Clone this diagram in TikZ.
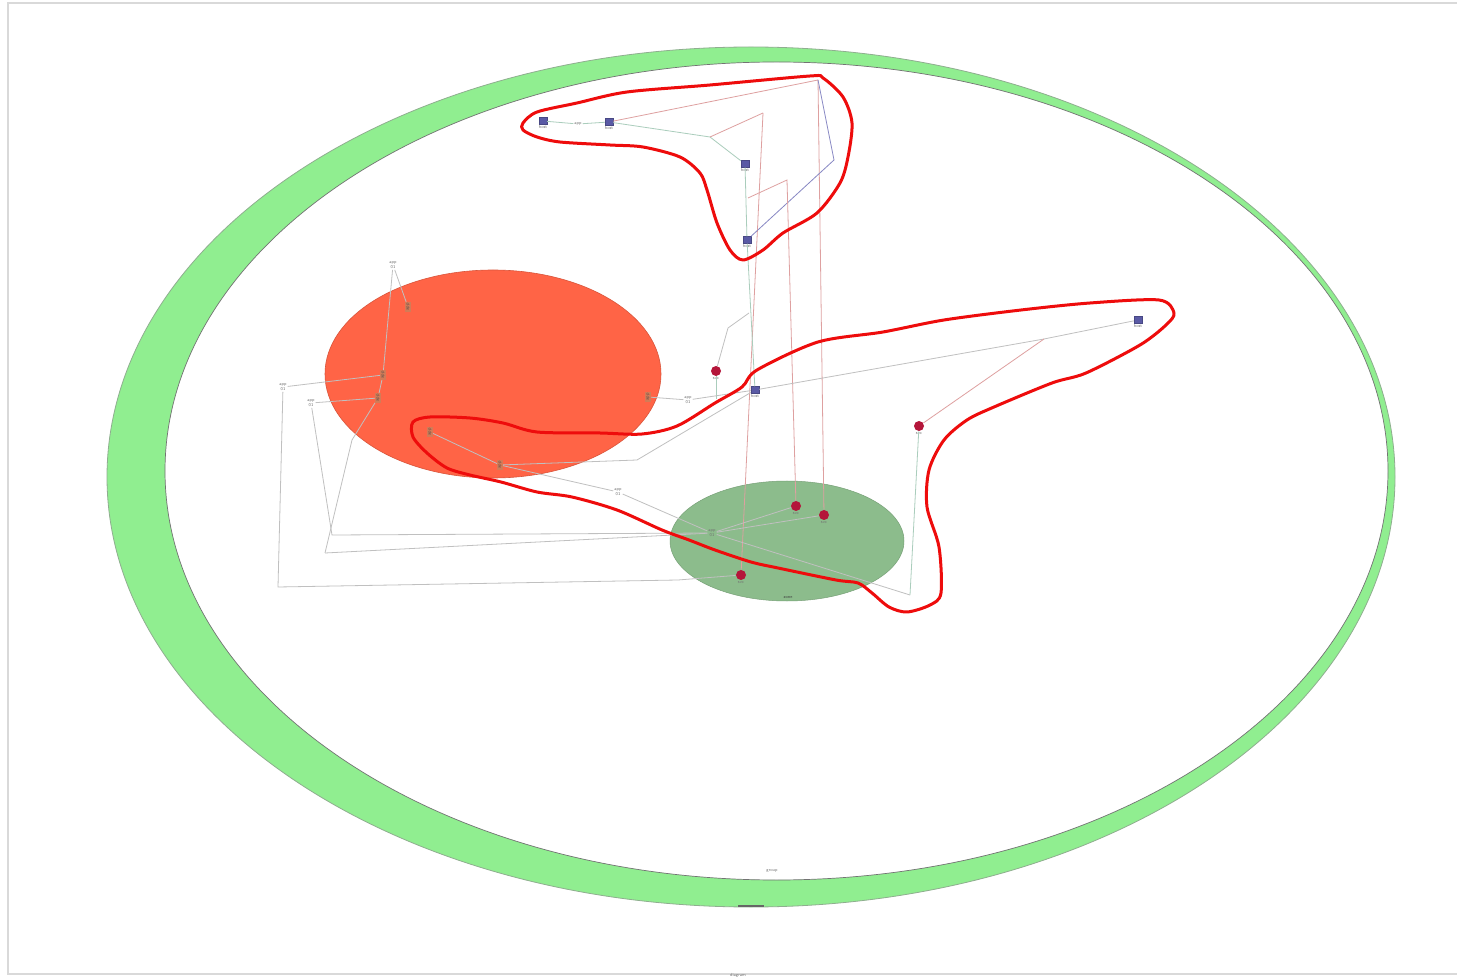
\documentclass[tikz,border=0pt]{standalone}
\definecolor{ringgreen}{RGB}{144,238,144}
\definecolor{ringedge}{RGB}{95,140,95}
\definecolor{tomatoc}{RGB}{255,100,70}
\definecolor{seagreenc}{RGB}{140,188,140}
\definecolor{hlred}{RGB}{238,12,12}
\definecolor{sqblue}{RGB}{90,90,165}
\definecolor{dotred}{RGB}{180,22,58}
\definecolor{epink}{RGB}{222,160,160}
\definecolor{egreen}{RGB}{170,205,188}
\definecolor{eblue}{RGB}{135,135,195}
\definecolor{egray}{RGB}{192,192,192}
\definecolor{ornbox}{RGB}{200,90,45}
\tikzset{
  sq/.style={rectangle, fill=sqblue, draw=sqblue!80!black, line width=0.2pt, minimum width=4pt, minimum height=3.5pt, inner sep=0pt},
  rdot/.style={circle, fill=dotred, minimum size=5pt, inner sep=0pt},
  lbl/.style={font=\fontsize{2.2}{2.6}\selectfont\sffamily, text=black!55, inner sep=0.4pt, align=center},
  orn/.style={font=\fontsize{2.2}{2.6}\selectfont\sffamily, text=black!70, fill=ornbox!80, inner sep=0.6pt, rotate=90, align=center},
  eg/.style={draw=egreen, line width=0.4pt},
  ep/.style={draw=epink, line width=0.4pt},
  eb/.style={draw=eblue, line width=0.4pt},
  ey/.style={draw=egray, line width=0.4pt},
  hl/.style={draw=hlred, line width=1.5pt, line join=round}
}
\begin{document}
\begin{tikzpicture}[x=0.5pt,y=-0.5pt]
\useasboundingbox (0,0) rectangle (1457,978);
\fill[white] (0,0) rectangle (1457,978);
\draw[black!15, line width=0.8pt] (1457,3) -- (8,3) -- (8,974) -- (1457,974);

% outer ring
\fill[ringgreen, even odd rule] (751,477) ellipse [x radius=322pt, y radius=215pt]
  (776.5,471) ellipse [x radius=305.75pt, y radius=204.5pt];
\draw[ringedge!70, line width=0.4pt] (751,477) ellipse [x radius=322pt, y radius=215pt];
\draw[black!55, line width=0.35pt] (776.5,471) ellipse [x radius=305.75pt, y radius=204.5pt];
\node[lbl] (ringlbl) at (772,871) {group};
\fill[black!60] (738,905) rectangle (764,907);

% zones
\fill[tomatoc] (493,374) ellipse [x radius=84pt, y radius=52pt];
\draw[tomatoc!85!black, line width=0.3pt] (493,374) ellipse [x radius=84pt, y radius=52pt];
\fill[seagreenc] (787,541) ellipse [x radius=58.5pt, y radius=30pt];
\draw[seagreenc!85!black, line width=0.25pt] (787,541) ellipse [x radius=58.5pt, y radius=30pt];
\node[lbl, text=black!75] (greenlbl) at (788,598) {zone};

% nodes
\node[sq, label={[lbl]below:host}] (B1) at (543,121) {};
\node[sq, label={[lbl]below:host}] (B2) at (609,122) {};
\node[sq, label={[lbl]below:host}] (B3) at (745,164) {};
\node[sq, label={[lbl]below:host}] (B4) at (747,240) {};
\node[sq, label={[lbl]below:host}] (B5) at (755,390) {};
\node[sq, label={[lbl]below:host}] (B6) at (1138,320) {};
\node[rdot, label={[lbl]below:svc}] (R1) at (716,371) {};
\node[rdot, label={[lbl]below:svc}] (R2) at (919,426) {};
\node[rdot, label={[lbl]below:svc}] (R3) at (796,506) {};
\node[rdot, label={[lbl]below:svc}] (R4) at (824,515) {};
\node[rdot, label={[lbl]below:svc}] (R5) at (741,575) {};

\node[lbl] (L1) at (393,265) {app\\01};
\node[orn] (O1) at (408,307) {app};
\node[orn] (O2) at (383,375) {app};
\node[orn] (O3) at (378,398) {app};
\node[orn] (O4) at (430,432) {app};
\node[orn] (O5) at (500,465) {app};
\node[orn] (O6) at (648,397) {app};
\node[lbl] (L2) at (283,387) {app\\01};
\node[lbl] (L3) at (311,403) {app\\01};
\node[lbl] (L4) at (688,400) {app\\01};
\node[lbl] (L5) at (618,492) {app\\01};
\node[lbl] (G1) at (712,533) {app\\01};
\node[lbl] (L6) at (578,124) {app};

% junctions
\coordinate (J1) at (710,137);
\coordinate (J2) at (763,113);
\coordinate (J3) at (818,80);
\coordinate (J4) at (834,160);
\coordinate (J5) at (748,198);
\coordinate (J6) at (787,180);
\coordinate (J7) at (749,313);
\coordinate (J8) at (728,328);
\coordinate (J9) at (1044,339);
\coordinate (J10) at (637,460);
\coordinate (J11) at (332,535);
\coordinate (J12) at (325,553);
\coordinate (J13) at (278,587);
\coordinate (J14) at (910,595);
\coordinate (J15) at (352,440);
\coordinate (J16) at (716,399);
\coordinate (J17) at (678,580);

% edges
\draw[eg] (B1) -- (L6) -- (B2);
\draw[eg] (B2) -- (J1) -- (B3);
\draw[ep] (J1) -- (J2);
\draw[ep] (J2) -- (R5);
\draw[ep] (B2) -- (J3);
\draw[ep] (J3) -- (R4);
\draw[eb] (J3) -- (J4) -- (B4);
\draw[eg] (B3) -- (B4);
\draw[ep] (J5) -- (J6) -- (R3);
\draw[eg] (B4) -- (B5);
\draw[ey] (J7) -- (J8) -- (R1);
\draw[eg] (R1) -- (J16);
\draw[ey] (O6) -- (L4) -- (B5);
\draw[ey] (B5) -- (J9) -- (B6);
\draw[ep] (J9) -- (R2);
\draw[eg] (R2) -- (J14);
\draw[ey] (J14) -- (G1);
\draw[ey] (B5) -- (J10) -- (O5);
\draw[ey] (O5) -- (L5) -- (G1);
\draw[ey] (O4) -- (O5);
\draw[ey] (L1) -- (O1);
\draw[ey] (L1) -- (O2);
\draw[ey] (O2) -- (O3);
\draw[ey] (O3) -- (J15) -- (J12);
\draw[ey] (J12) -- (G1);
\draw[ey] (L3) -- (J11) -- (G1);
\draw[ey] (L3) -- (O3);
\draw[ey] (L2) -- (O2);
\draw[ey] (L2) -- (J13) -- (J17) -- (R5);
\draw[ey] (G1) -- (R3);
\draw[ey] (G1) -- (R4);

% highlight outlines
\draw[hl] plot[smooth cycle, tension=0.5] coordinates {
 (523,123) (537,112) (577,103) (627,92) (710,85) (810,76) (823,78) (843,97)
 (852,123) (848,157) (840,183) (817,213) (783,233) (763,250) (743,260) (730,250)
 (717,223) (707,190) (700,173) (680,157) (643,147) (610,145) (560,142) (537,137) (523,130)};
\draw[hl] plot[smooth cycle, tension=0.5] coordinates {
 (413,422) (430,417) (470,418) (503,423) (537,432) (600,433) (642,434) (677,426)
 (715,403) (742,387) (757,370) (818,342) (883,332) (944,320) (1021,310) (1090,303)
 (1159,300) (1174,313) (1166,325) (1140,345) (1086,373) (1052,383) (994,407) (967,420)
 (944,440) (929,470) (927,507) (939,547) (941,593) (930,605) (907,612) (889,607)
 (872,593) (858,583) (836,580) (778,568) (751,562) (715,550) (689,540) (662,530)
 (617,510) (572,497) (537,492) (501,482) (470,475) (447,468) (427,453) (413,437)};

\node[lbl] (bottomlbl) at (738,975) {diagram};
\end{tikzpicture}
\end{document}
